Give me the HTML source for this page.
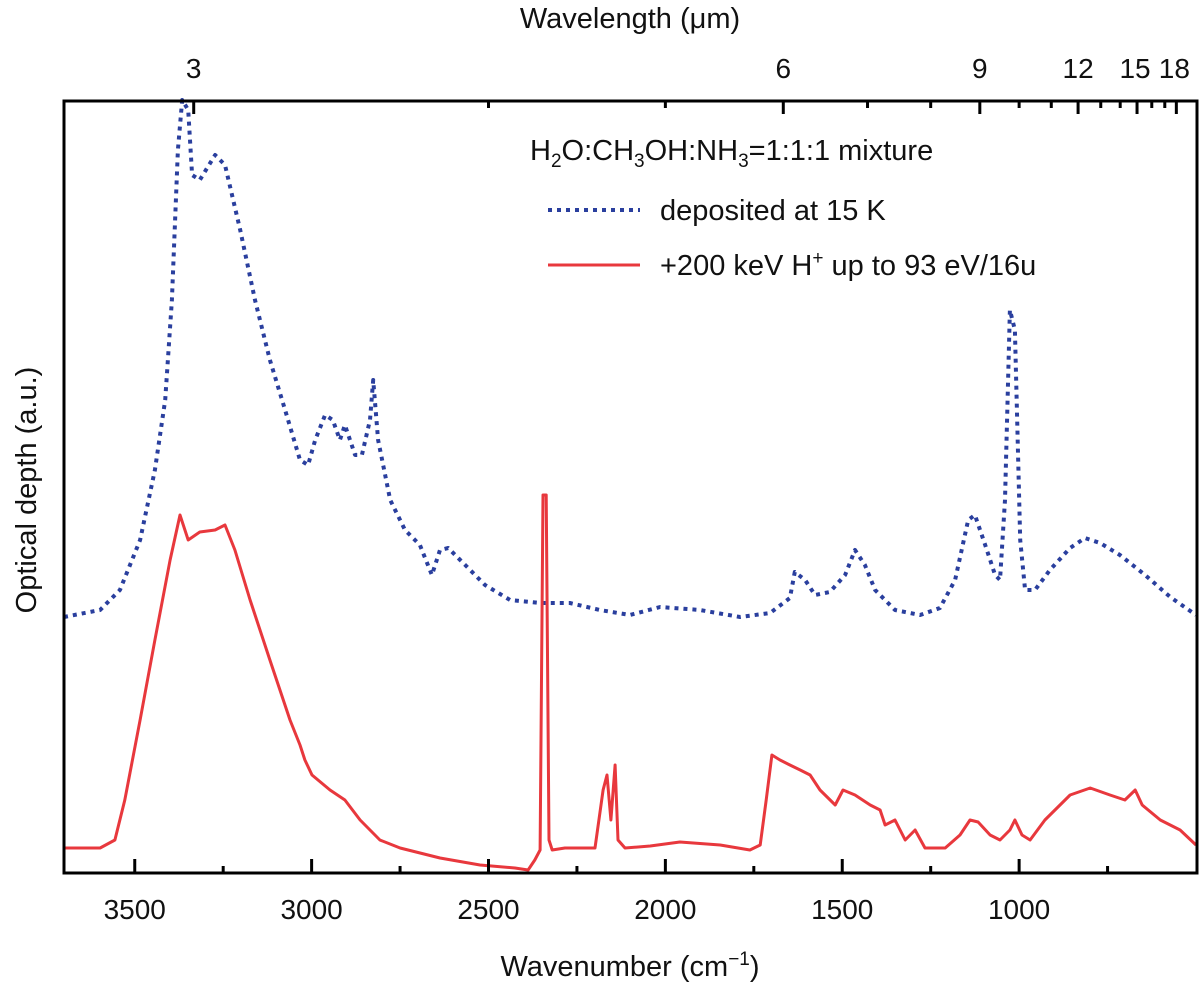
<!DOCTYPE html>
<html><head><meta charset="utf-8"><style>
body{margin:0;background:#fff}
svg text{font-family:"Liberation Sans",sans-serif;fill:#111}
</style></head><body>
<svg id="chart" width="1200" height="987" viewBox="0 0 1200 987">
<g id="plot"></g>
<rect x="64" y="101" width="1133" height="772" fill="none" stroke="#000" stroke-width="3"/>
<g id="ticks"></g>
<text x="630" y="28" font-size="29" text-anchor="middle">Wavelength (μm)</text>
<text x="630" y="976" font-size="29" text-anchor="middle">Wavenumber (cm<tspan dy="-11" font-size="19">−1</tspan><tspan dy="11">)</tspan></text>
<text x="0" y="0" font-size="29" text-anchor="middle" transform="translate(36,490) rotate(-90)">Optical depth (a.u.)</text>
<g>
<text x="530" y="160" font-size="29">H<tspan font-size="19" dy="7">2</tspan><tspan dy="-7">O:CH</tspan><tspan font-size="19" dy="7">3</tspan><tspan dy="-7">OH:NH</tspan><tspan font-size="19" dy="7">3</tspan><tspan dy="-7">=1:1:1 mixture</tspan></text>
<line x1="548" y1="210" x2="640" y2="210" stroke="#2a3f9e" stroke-width="4" stroke-dasharray="4 5"/>
<text x="660" y="220" font-size="29">deposited at 15 K</text>
<line x1="548" y1="265" x2="640" y2="265" stroke="#e8383d" stroke-width="3"/>
<text x="660" y="275" font-size="29">+200 keV H<tspan font-size="19" dy="-11">+</tspan><tspan dy="11"> up to 93 eV/16u</tspan></text>
</g>
</svg>
<script>
const blueWn=[3700,3598,3542,3485,3443,3414,3395,3378,3366,3349,3338,3316,3273,3245,3202,3160,3118,3075,3033,3010,2990,2962,2940,2920,2906,2877,2858,2835,2826,2812,2778,2736,2694,2660,2637,2614,2566,2510,2439,2354,2270,2185,2100,2015,1902,1789,1704,1648,1634,1605,1577,1535,1492,1464,1436,1407,1351,1280,1224,1181,1144,1125,1096,1068,1054,1040,1026,1012,997,983,955,913,856,814,771,715,644,573,500];
const blueOD=[2.63,2.70,2.90,3.40,4.10,4.80,5.80,7.30,7.80,7.70,7.05,7.00,7.25,7.15,6.50,5.80,5.20,4.70,4.20,4.15,4.40,4.65,4.60,4.40,4.55,4.25,4.25,4.60,5.00,4.40,3.80,3.50,3.35,3.05,3.30,3.32,3.15,2.95,2.80,2.77,2.77,2.70,2.65,2.73,2.70,2.63,2.67,2.82,3.08,3.00,2.85,2.88,3.05,3.30,3.15,2.90,2.70,2.65,2.72,3.00,3.60,3.65,3.35,3.05,3.00,3.80,5.70,5.50,3.40,2.90,2.90,3.10,3.32,3.42,3.37,3.25,3.05,2.83,2.65];
const redWn=[3700,3598,3556,3528,3485,3443,3400,3372,3349,3316,3273,3245,3217,3174,3118,3061,3033,3019,2999,2948,2906,2863,2807,2750,2637,2524,2425,2388,2369,2354,2346,2337,2329,2320,2284,2199,2176,2165,2154,2142,2134,2114,2043,1959,1845,1761,1732,1715,1699,1676,1648,1619,1591,1563,1520,1498,1464,1421,1393,1379,1351,1322,1294,1266,1209,1167,1139,1116,1082,1054,1026,1012,992,969,927,856,799,743,701,672,652,601,545,500];
const redOD=[0.32,0.32,0.40,0.80,1.60,2.40,3.20,3.65,3.40,3.48,3.50,3.55,3.30,2.80,2.20,1.60,1.35,1.20,1.05,0.90,0.80,0.60,0.40,0.32,0.22,0.15,0.12,0.10,0.20,0.30,3.85,3.85,0.40,0.30,0.32,0.32,0.90,1.05,0.60,1.15,0.40,0.32,0.34,0.38,0.35,0.30,0.35,0.80,1.25,1.20,1.15,1.10,1.05,0.90,0.75,0.90,0.85,0.75,0.70,0.55,0.60,0.40,0.50,0.32,0.32,0.45,0.60,0.58,0.45,0.40,0.50,0.60,0.45,0.40,0.60,0.85,0.92,0.85,0.80,0.90,0.75,0.60,0.50,0.35];
const xTicks=[3500,3000,2500,2000,1500,1000];
const xMinor=[3250,2750,2250,1750,1250,750];
const topMajor=[3,6,9,12,15,18];
const topMinor=[4,5,7,8,10,11,13,14,16,17];
const NS="http://www.w3.org/2000/svg";
const X=w=>64+(3700-w)/3200*1132;
const Y=v=>880-v*100;
const plot=document.getElementById('plot'),tk=document.getElementById('ticks');
function path(xs,ys,color,w,dash,name){
  const p=document.createElementNS(NS,'path');
  p.setAttribute('d',xs.map((x,i)=>(i?'L':'M')+X(x).toFixed(1)+' '+Y(ys[i]).toFixed(1)).join(''));
  p.setAttribute('fill','none');p.setAttribute('stroke',color);p.setAttribute('stroke-width',w);
  p.setAttribute('stroke-linejoin','round');
  if(dash)p.setAttribute('stroke-dasharray',dash);
  
  
  plot.appendChild(p);
}
path(blueWn,blueOD,'#2a3f9e',4,'4 5','series-deposited');
path(redWn,redOD,'#e8383d',3,null,'series-irradiated');
function line(x1,y1,x2,y2,name){
  const l=document.createElementNS(NS,'line');
  l.setAttribute('x1',x1);l.setAttribute('y1',y1);l.setAttribute('x2',x2);l.setAttribute('y2',y2);
  l.setAttribute('stroke','#000');l.setAttribute('stroke-width',3);
  
  
  tk.appendChild(l);
}
function text(x,y,s,name){
  const t=document.createElementNS(NS,'text');
  t.setAttribute('x',x);t.setAttribute('y',y);t.setAttribute('font-size','28');t.setAttribute('text-anchor','middle');
  t.textContent=s;
  
  
  tk.appendChild(t);
}
xTicks.forEach(v=>{line(X(v),873,X(v),859,'x-tick');text(X(v),919,String(v),'x-tick-label');});
xMinor.forEach(v=>{line(X(v),873,X(v),866,'x-minor-tick');});
topMajor.forEach(l=>{const x=X(1e4/l);line(x,101,x,114,'top-tick');text(l>=15?x-2:x,78,String(l),'top-tick-label');});
topMinor.forEach(l=>{const x=X(1e4/l);line(x,101,x,108,'top-minor-tick');});
</script>
</body></html>
